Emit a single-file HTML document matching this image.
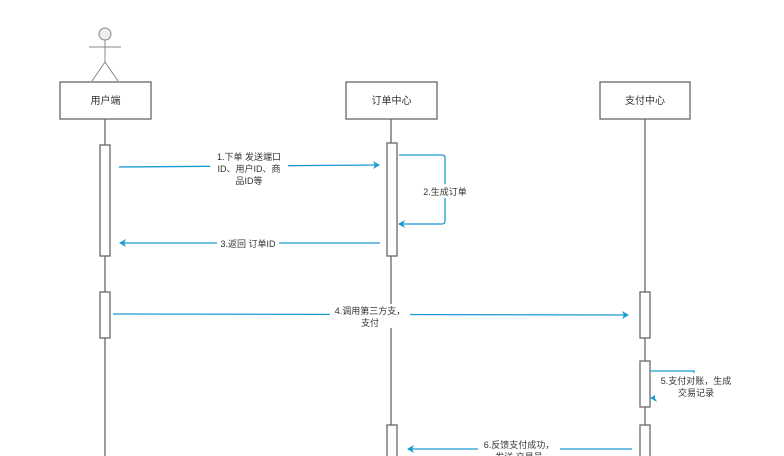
<!DOCTYPE html>
<html><head><meta charset="utf-8"><style>
html,body{margin:0;padding:0;background:#fff;width:784px;height:456px;overflow:hidden}
text{font-family:"Liberation Sans","Noto Sans CJK SC",sans-serif;font-size:9px;fill:#333}
.b{font-size:10px}
</style></head><body>
<svg width="784" height="456" viewBox="0 0 784 456" xmlns="http://www.w3.org/2000/svg">
<defs>
<marker id="a" markerWidth="8" markerHeight="8" refX="6" refY="4" orient="auto" markerUnits="userSpaceOnUse">
<path d="M0,0 L7,4 L0,8 L2,4 Z" fill="#1a9bd1"/></marker>
</defs>
<g stroke="#888" fill="none" stroke-width="1">
<circle cx="105" cy="34" r="6" fill="#eee"/>
<line x1="105" y1="40" x2="105" y2="62"/>
<line x1="89" y1="47" x2="121" y2="47"/>
<line x1="105" y1="62" x2="92" y2="81"/>
<line x1="105" y1="62" x2="118" y2="81"/>
</g>
<g stroke="#666" stroke-width="1.3">
<line x1="105" y1="119" x2="105" y2="456"/>
<line x1="391" y1="119" x2="391" y2="456"/>
<line x1="645" y1="119" x2="645" y2="456"/>
</g>
<g stroke="#666" stroke-width="1.3" fill="#fff">
<rect x="60" y="82" width="91" height="37"/>
<rect x="346" y="82" width="91" height="37"/>
<rect x="600" y="82" width="90" height="37"/>
<rect x="100" y="145" width="10" height="111"/>
<rect x="100" y="292" width="10" height="46"/>
<rect x="387" y="143" width="10" height="113"/>
<rect x="387" y="425" width="10" height="40"/>
<rect x="640" y="292" width="10" height="46"/>
<rect x="640" y="361" width="10" height="46"/>
<rect x="640" y="425" width="10" height="40"/>
</g>
<text class="b" x="105.5" y="104" text-anchor="middle">用户端</text>
<text class="b" x="391.5" y="104" text-anchor="middle">订单中心</text>
<text class="b" x="645" y="104" text-anchor="middle">支付中心</text>
<g stroke="#1a9bd1" stroke-width="1.3" fill="none" marker-end="url(#a)">
<line x1="119" y1="167" x2="379" y2="165"/>
<path d="M399,155 H442 Q445,155 445,158 V221 Q445,224 442,224 H399"/>
<line x1="380" y1="243" x2="120" y2="243"/>
<line x1="113" y1="314" x2="628" y2="315"/>
<path d="M651,371 H694 V398 H651"/>
<line x1="632" y1="449" x2="408" y2="449"/>
</g>
<g fill="#fff">
<rect x="210" y="150" width="78" height="38"/>
<rect x="420" y="184" width="50" height="14"/>
<rect x="217" y="237" width="62" height="13"/>
<rect x="330" y="304" width="80" height="24"/>
<rect x="655" y="373" width="80" height="26"/>
<rect x="478" y="439" width="82" height="17"/>
</g>
<g text-anchor="middle">
<text x="249" y="160">1.下单 发送端口</text>
<text x="249" y="172">ID、用户ID、商</text>
<text x="249" y="184">品ID等</text>
<text x="445" y="195">2.生成订单</text>
<text x="248" y="247">3.返回 订单ID</text>
<text x="370" y="314">4.调用第三方支，</text>
<text x="370" y="326">支付</text>
<text x="696" y="384">5.支付对账，生成</text>
<text x="696" y="396">交易记录</text>
<text x="519" y="448">6.反馈支付成功，</text>
<text x="519" y="460">发送 交易号</text>
</g>
</svg>
</body></html>
